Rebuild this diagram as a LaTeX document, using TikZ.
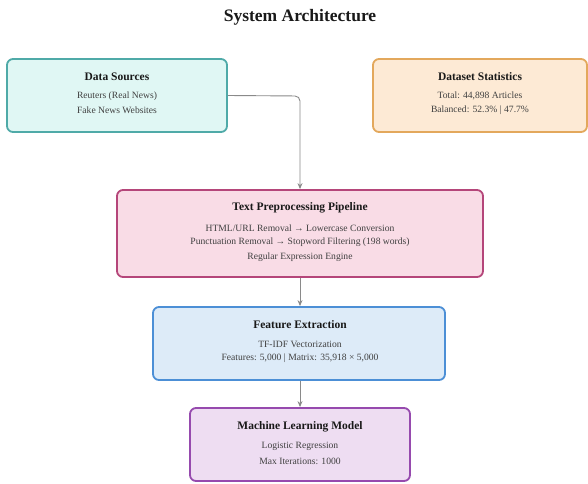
\documentclass[tikz,border=0pt]{standalone}
\usepackage{fontspec}
\setmainfont{Liberation Serif}
\usetikzlibrary{arrows.meta}
\definecolor{tealB}{HTML}{4FAAA8}
\definecolor{tealF}{HTML}{E0F7F4}
\definecolor{orgB}{HTML}{E3A85C}
\definecolor{orgF}{HTML}{FDEAD5}
\definecolor{pnkB}{HTML}{B5467A}
\definecolor{pnkF}{HTML}{F9DCE6}
\definecolor{bluB}{HTML}{4C8FD6}
\definecolor{bluF}{HTML}{DDEBF8}
\definecolor{purB}{HTML}{964AAE}
\definecolor{purF}{HTML}{EEDDF2}
\definecolor{lineG}{HTML}{8A8A8A}
\tikzset{
  box/.style={draw, line width=1.8pt, rounded corners=6pt, inner sep=0pt},
  hdr/.style={font=\fontsize{11.5}{13}\selectfont\bfseries, text=black!90},
  body/.style={font=\fontsize{9.6}{11}\selectfont, text=black!75},
  conn/.style={draw=lineG, line width=0.9pt, -{Stealth[length=6pt,width=5pt]}}
}
\begin{document}
\begin{tikzpicture}[x=1pt,y=-1pt]
\useasboundingbox[fill=white] (0,0) rectangle (588,483);
\node[font=\fontsize{17.5}{19}\selectfont\bfseries, text=black!90] (title) at (300,17) {System Architecture};
% boxes
\node[box, draw=tealB, fill=tealF, minimum width=220pt, minimum height=73pt] (ds) at (117,95.5) {};
\node[box, draw=orgB, fill=orgF, minimum width=214pt, minimum height=73pt] (st) at (480,95.5) {};
\node[box, draw=pnkB, fill=pnkF, minimum width=366pt, minimum height=87pt] (tp) at (300,233.5) {};
\node[box, draw=bluB, fill=bluF, minimum width=292pt, minimum height=73pt] (fe) at (299,343.5) {};
\node[box, draw=purB, fill=purF, minimum width=220pt, minimum height=73pt] (ml) at (300,444.5) {};
% texts
\node[hdr] (dsh) at (117,77) {Data Sources};
\node[body] (ds1) at (117,96) {Reuters (Real News)};
\node[body] (ds2) at (117,110) {Fake News Websites};
\node[hdr] (sth) at (480,77) {Dataset Statistics};
\node[body] (st1) at (480,96) {Total: 44,898 Articles};
\node[body] (st2) at (480,110) {Balanced: 52.3\% | 47.7\%};
\node[hdr] (tph) at (300,208) {Text Preprocessing Pipeline};
\node[body] (tp1) at (300,228) {HTML/URL Removal → Lowercase Conversion};
\node[body] (tp2) at (300,242) {Punctuation Removal → Stopword Filtering (198 words)};
\node[body] (tp3) at (300,257) {Regular Expression Engine};
\node[hdr] (feh) at (300,325) {Feature Extraction};
\node[body] (fe1) at (300,344) {TF-IDF Vectorization};
\node[body] (fe2) at (300,358) {Features: 5,000 | Matrix: 35,918 × 5,000};
\node[hdr] (mlh) at (300,427) {Machine Learning Model};
\node[body] (ml1) at (300,446) {Logistic Regression};
\node[body] (ml2) at (300,461) {Max Iterations: 1000};
% connectors
\coordinate (bend) at (300,96);
\draw[conn, rounded corners=5pt] (ds.east) -- (bend) -- (tp.north);
\draw[conn] (tp.south) -- (fe.north -| tp.south);
\draw[conn] (fe.south -| ml.north) -- (ml.north);
\end{tikzpicture}
\end{document}
